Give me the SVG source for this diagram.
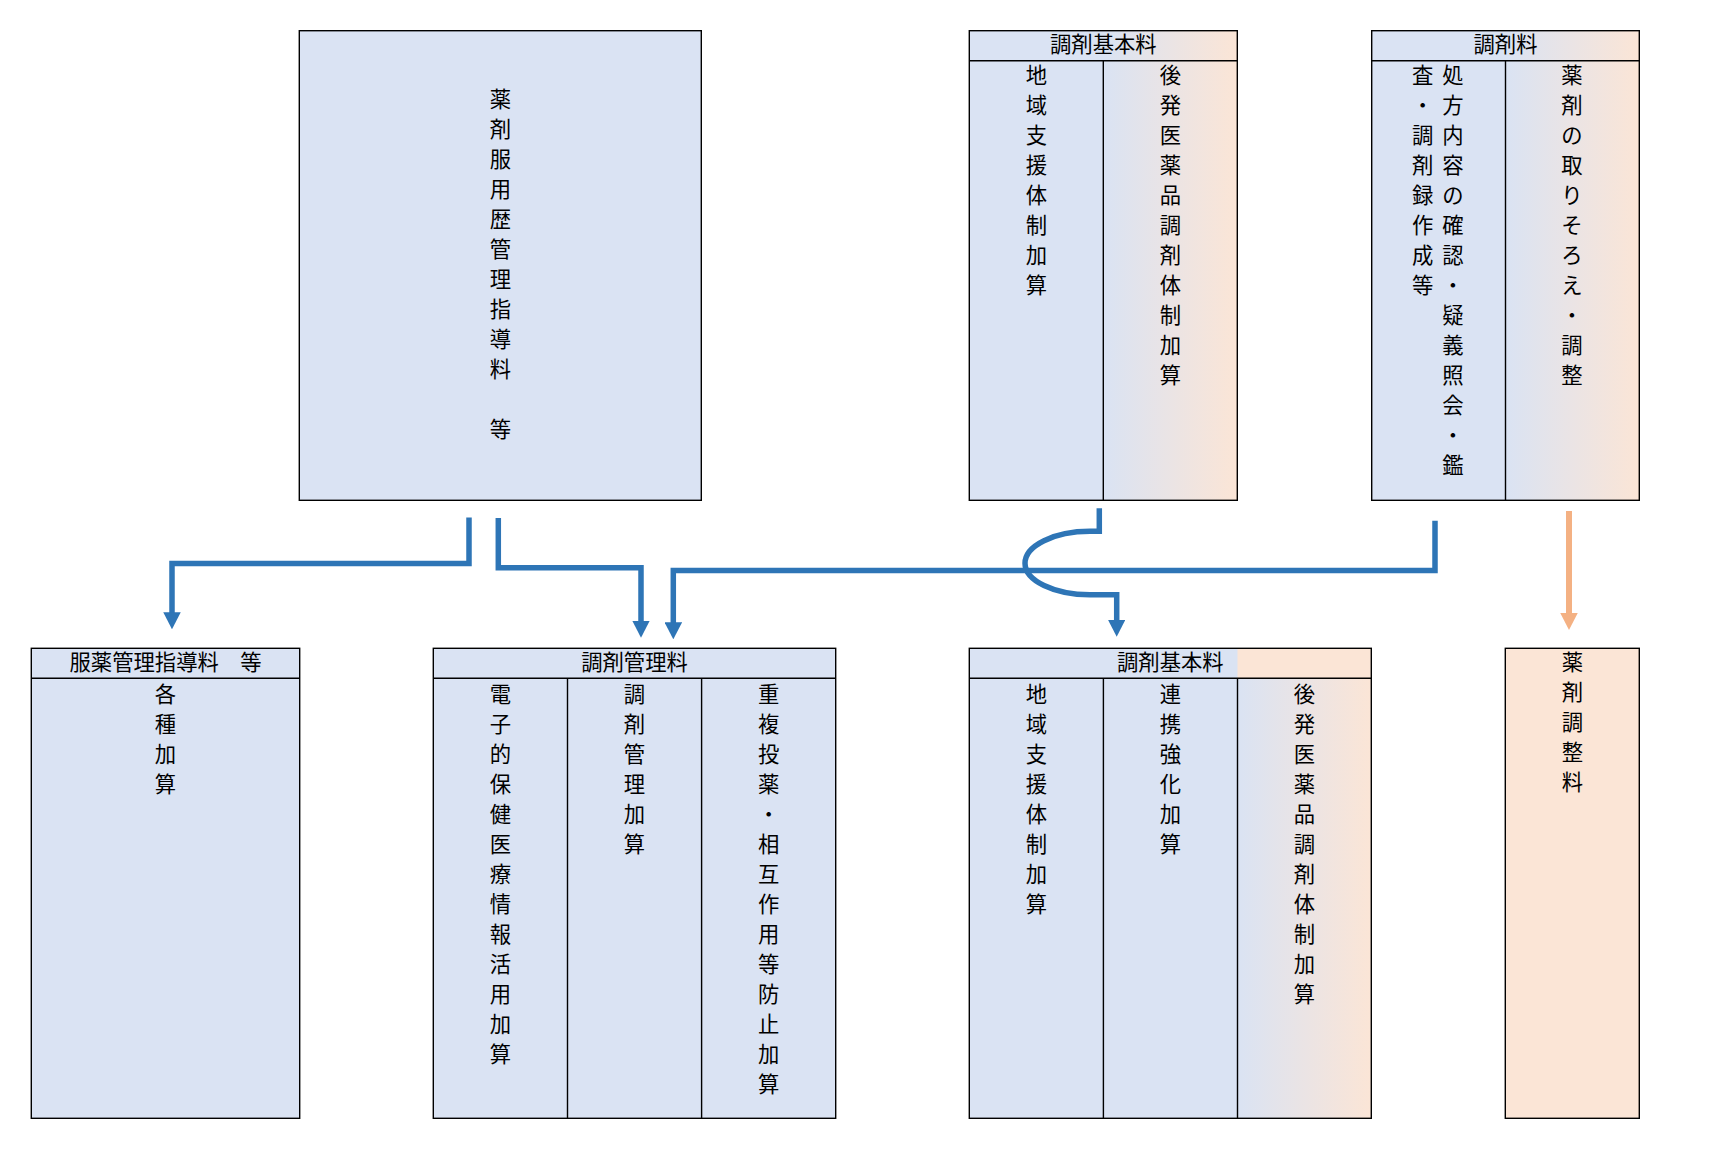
<svg xmlns="http://www.w3.org/2000/svg" width="1727" height="1149" viewBox="0 0 1727 1149">
<style>
.box{stroke:#000;stroke-width:1.4}
.ln{stroke:#000;stroke-width:1.4;fill:none}
.blue{fill:#dae3f3}
.peach{fill:#fbe5d6}
text{font-family:"Noto Sans CJK JP","Noto Sans CJK SC",sans-serif;font-size:21.33px;fill:#000;text-anchor:middle}
.conn{fill:none;stroke:#2e75b6;stroke-width:5.5;stroke-linejoin:miter;stroke-linecap:butt}
.conn-o{fill:none;stroke:#f4b183;stroke-width:6;stroke-linecap:butt}
</style>
<defs>
<linearGradient id="g1" x1="0" y1="0" x2="1" y2="0">
<stop offset="0" stop-color="#dae3f3"/>
<stop offset="0.5" stop-color="#dae3f3"/>
<stop offset="1" stop-color="#fbe5d6"/>
</linearGradient>
<linearGradient id="g2" x1="0" y1="0" x2="1" y2="0">
<stop offset="0" stop-color="#dae3f3"/>
<stop offset="1" stop-color="#fbe5d6"/>
</linearGradient>
<marker id="ah" markerUnits="userSpaceOnUse" viewBox="0 0 17 17.5" markerWidth="17" markerHeight="17.5" refX="2" refY="8.75" orient="auto">
<path d="M0,0 L17,8.75 L0,17.5 z" fill="#2e75b6"/>
</marker>
<marker id="aho" markerUnits="userSpaceOnUse" viewBox="0 0 17 17.5" markerWidth="17" markerHeight="17.5" refX="2" refY="8.75" orient="auto">
<path d="M0,0 L17,8.75 L0,17.5 z" fill="#f4b183"/>
</marker>
</defs>
<rect width="1727" height="1149" fill="#fff"/>

<g id="node-yakureki">
<rect class="box blue" x="299.3" y="30.7" width="402" height="469.6"/>
<text><tspan x="500.3" y="106.5">薬</tspan><tspan x="500.3" y="136.5">剤</tspan><tspan x="500.3" y="166.5">服</tspan><tspan x="500.3" y="196.5">用</tspan><tspan x="500.3" y="226.5">歴</tspan><tspan x="500.3" y="256.5">管</tspan><tspan x="500.3" y="286.5">理</tspan><tspan x="500.3" y="316.5">指</tspan><tspan x="500.3" y="346.5">導</tspan><tspan x="500.3" y="376.5">料</tspan><tspan x="500.3" y="436.5">等</tspan></text>
</g>

<g id="node-kihon-top">
<rect class="box" x="969.3" y="30.7" width="268" height="469.6" fill="url(#g1)"/>
<line class="ln" x1="969.3" y1="60.7" x2="1237.3" y2="60.7"/>
<line class="ln" x1="1103.3" y1="60.7" x2="1103.3" y2="500.3"/>
<text x="1103.3" y="52">調剤基本料</text>
<text><tspan x="1036.3" y="83.2">地</tspan><tspan x="1036.3" y="113.2">域</tspan><tspan x="1036.3" y="143.2">支</tspan><tspan x="1036.3" y="173.2">援</tspan><tspan x="1036.3" y="203.2">体</tspan><tspan x="1036.3" y="233.2">制</tspan><tspan x="1036.3" y="263.2">加</tspan><tspan x="1036.3" y="293.2">算</tspan></text>
<text><tspan x="1170.3" y="83.2">後</tspan><tspan x="1170.3" y="113.2">発</tspan><tspan x="1170.3" y="143.2">医</tspan><tspan x="1170.3" y="173.2">薬</tspan><tspan x="1170.3" y="203.2">品</tspan><tspan x="1170.3" y="233.2">調</tspan><tspan x="1170.3" y="263.2">剤</tspan><tspan x="1170.3" y="293.2">体</tspan><tspan x="1170.3" y="323.2">制</tspan><tspan x="1170.3" y="353.2">加</tspan><tspan x="1170.3" y="383.2">算</tspan></text>
</g>

<g id="node-chozairyo">
<rect class="box" x="1371.7" y="30.7" width="267.6" height="469.6" fill="url(#g1)"/>
<line class="ln" x1="1371.7" y1="60.7" x2="1639.3" y2="60.7"/>
<line class="ln" x1="1505.5" y1="60.7" x2="1505.5" y2="500.3"/>
<text x="1505.5" y="52">調剤料</text>
<text><tspan x="1453" y="83.2">処</tspan><tspan x="1453" y="113.2">方</tspan><tspan x="1453" y="143.2">内</tspan><tspan x="1453" y="173.2">容</tspan><tspan x="1453" y="203.2">の</tspan><tspan x="1453" y="233.2">確</tspan><tspan x="1453" y="263.2">認</tspan><tspan x="1453" y="293.2">・</tspan><tspan x="1453" y="323.2">疑</tspan><tspan x="1453" y="353.2">義</tspan><tspan x="1453" y="383.2">照</tspan><tspan x="1453" y="413.2">会</tspan><tspan x="1453" y="443.2">・</tspan><tspan x="1453" y="473.2">鑑</tspan></text>
<text><tspan x="1422.7" y="83.2">査</tspan><tspan x="1422.7" y="113.2">・</tspan><tspan x="1422.7" y="143.2">調</tspan><tspan x="1422.7" y="173.2">剤</tspan><tspan x="1422.7" y="203.2">録</tspan><tspan x="1422.7" y="233.2">作</tspan><tspan x="1422.7" y="263.2">成</tspan><tspan x="1422.7" y="293.2">等</tspan></text>
<text><tspan x="1572" y="83.2">薬</tspan><tspan x="1572" y="113.2">剤</tspan><tspan x="1572" y="143.2">の</tspan><tspan x="1572" y="173.2">取</tspan><tspan x="1572" y="203.2">り</tspan><tspan x="1572" y="233.2">そ</tspan><tspan x="1572" y="263.2">ろ</tspan><tspan x="1572" y="293.2">え</tspan><tspan x="1572" y="323.2">・</tspan><tspan x="1572" y="353.2">調</tspan><tspan x="1572" y="383.2">整</tspan></text>
</g>

<g id="node-fukuyaku">
<rect class="box blue" x="31.3" y="648.3" width="268.4" height="470"/>
<line class="ln" x1="31.3" y1="678.3" x2="299.7" y2="678.3"/>
<text x="165.5" y="670">服薬管理指導料　等</text>
<text><tspan x="165.5" y="701.5">各</tspan><tspan x="165.5" y="731.5">種</tspan><tspan x="165.5" y="761.5">加</tspan><tspan x="165.5" y="791.5">算</tspan></text>
</g>

<g id="node-kanri">
<rect class="box blue" x="433.3" y="648.3" width="402.4" height="470"/>
<line class="ln" x1="433.3" y1="678.3" x2="835.7" y2="678.3"/>
<line class="ln" x1="567.5" y1="678.3" x2="567.5" y2="1118.3"/>
<line class="ln" x1="701.6" y1="678.3" x2="701.6" y2="1118.3"/>
<text x="634.5" y="670">調剤管理料</text>
<text><tspan x="500.4" y="701.5">電</tspan><tspan x="500.4" y="731.5">子</tspan><tspan x="500.4" y="761.5">的</tspan><tspan x="500.4" y="791.5">保</tspan><tspan x="500.4" y="821.5">健</tspan><tspan x="500.4" y="851.5">医</tspan><tspan x="500.4" y="881.5">療</tspan><tspan x="500.4" y="911.5">情</tspan><tspan x="500.4" y="941.5">報</tspan><tspan x="500.4" y="971.5">活</tspan><tspan x="500.4" y="1001.5">用</tspan><tspan x="500.4" y="1031.5">加</tspan><tspan x="500.4" y="1061.5">算</tspan></text>
<text><tspan x="634.5" y="701.5">調</tspan><tspan x="634.5" y="731.5">剤</tspan><tspan x="634.5" y="761.5">管</tspan><tspan x="634.5" y="791.5">理</tspan><tspan x="634.5" y="821.5">加</tspan><tspan x="634.5" y="851.5">算</tspan></text>
<text><tspan x="768.6" y="701.5">重</tspan><tspan x="768.6" y="731.5">複</tspan><tspan x="768.6" y="761.5">投</tspan><tspan x="768.6" y="791.5">薬</tspan><tspan x="768.6" y="821.5">・</tspan><tspan x="768.6" y="851.5">相</tspan><tspan x="768.6" y="881.5">互</tspan><tspan x="768.6" y="911.5">作</tspan><tspan x="768.6" y="941.5">用</tspan><tspan x="768.6" y="971.5">等</tspan><tspan x="768.6" y="1001.5">防</tspan><tspan x="768.6" y="1031.5">止</tspan><tspan x="768.6" y="1061.5">加</tspan><tspan x="768.6" y="1091.5">算</tspan></text>
</g>

<g id="node-kihon-bottom">
<rect class="blue" x="969.3" y="648.3" width="402" height="470"/>
<rect class="peach" x="1237.5" y="648.3" width="133.8" height="30"/>
<rect x="1237.5" y="678.3" width="133.8" height="440" fill="url(#g2)"/>
<rect class="box" x="969.3" y="648.3" width="402" height="470" fill="none"/>
<line class="ln" x1="969.3" y1="678.3" x2="1371.3" y2="678.3"/>
<line class="ln" x1="1103.4" y1="678.3" x2="1103.4" y2="1118.3"/>
<line class="ln" x1="1237.5" y1="678.3" x2="1237.5" y2="1118.3"/>
<text x="1170.3" y="670">調剤基本料</text>
<text><tspan x="1036.3" y="701.5">地</tspan><tspan x="1036.3" y="731.5">域</tspan><tspan x="1036.3" y="761.5">支</tspan><tspan x="1036.3" y="791.5">援</tspan><tspan x="1036.3" y="821.5">体</tspan><tspan x="1036.3" y="851.5">制</tspan><tspan x="1036.3" y="881.5">加</tspan><tspan x="1036.3" y="911.5">算</tspan></text>
<text><tspan x="1170.3" y="701.5">連</tspan><tspan x="1170.3" y="731.5">携</tspan><tspan x="1170.3" y="761.5">強</tspan><tspan x="1170.3" y="791.5">化</tspan><tspan x="1170.3" y="821.5">加</tspan><tspan x="1170.3" y="851.5">算</tspan></text>
<text><tspan x="1304.4" y="701.5">後</tspan><tspan x="1304.4" y="731.5">発</tspan><tspan x="1304.4" y="761.5">医</tspan><tspan x="1304.4" y="791.5">薬</tspan><tspan x="1304.4" y="821.5">品</tspan><tspan x="1304.4" y="851.5">調</tspan><tspan x="1304.4" y="881.5">剤</tspan><tspan x="1304.4" y="911.5">体</tspan><tspan x="1304.4" y="941.5">制</tspan><tspan x="1304.4" y="971.5">加</tspan><tspan x="1304.4" y="1001.5">算</tspan></text>
</g>

<g id="node-chosei">
<rect class="box peach" x="1505.3" y="648.3" width="134" height="470"/>
<text><tspan x="1572.3" y="670">薬</tspan><tspan x="1572.3" y="700">剤</tspan><tspan x="1572.3" y="730">調</tspan><tspan x="1572.3" y="760">整</tspan><tspan x="1572.3" y="790">料</tspan></text>
</g>

<g id="connectors">
<path class="conn" d="M469,517.5 V563.5 H172 V614.3" marker-end="url(#ah)"/>
<path class="conn" d="M498.3,518 V567.7 H641 V622.7" marker-end="url(#ah)"/>
<path class="conn" d="M1435,520.7 V570.5 H673.3 V624.3" marker-end="url(#ah)"/>
<path class="conn" d="M1099.3,508.3 V531.3 H1090 A65,32 0 0 0 1025,563.3 A65,31.5 0 0 0 1090,594.8 H1116.7 V621.7" marker-end="url(#ah)"/>
<path class="conn-o" d="M1569,511 V615" marker-end="url(#aho)"/>
</g>
</svg>
